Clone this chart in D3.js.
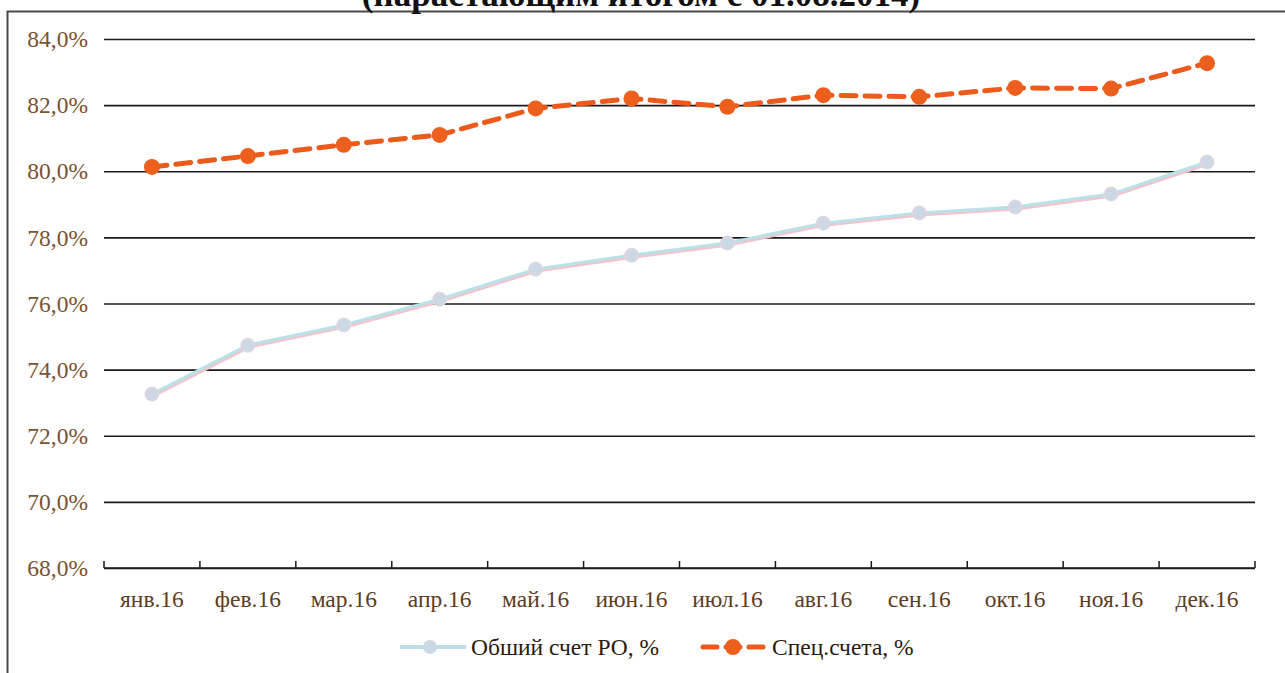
<!DOCTYPE html>
<html>
<head>
<meta charset="utf-8">
<script src="https://cdn.jsdelivr.net/npm/d3@7"></script>
<style>
  body { margin: 0; background: #fff; }
  svg { display: block; }
</style>
</head>
<body>
<script>
const months = ['янв.16', 'фев.16', 'мар.16', 'апр.16', 'май.16', 'июн.16',
                'июл.16', 'авг.16', 'сен.16', 'окт.16', 'ноя.16', 'дек.16'];
const general = [73.26, 74.74, 75.35, 76.13, 77.04, 77.46, 77.83, 78.43, 78.74, 78.92, 79.31, 80.28];
const special = [80.13, 80.46, 80.80, 81.10, 81.90, 82.20, 81.95, 82.30, 82.25, 82.52, 82.50, 83.27];
const yTicks = [68, 70, 72, 74, 76, 78, 80, 82, 84];
const seriesNames = ['Обший счет РО, %', 'Спец.счета, %'];
const title = '(нарастающим итогом с 01.08.2014)';

const W = 1285, H = 673;
const margin = { top: 39, right: 30, bottom: 105, left: 104 };
const width = W - margin.left - margin.right;
const height = H - margin.top - margin.bottom;
const serif = '"Liberation Serif", "DejaVu Serif", serif';
const textColor = '#5e3c22';
const fontSize = 23.5;

const svg = d3.select('body').append('svg')
  .attr('width', W)
  .attr('height', H);

// frame (only left and top edges visible in the scan)
svg.append('rect')
  .attr('x', 7.5).attr('y', 11.5)
  .attr('width', W + 20).attr('height', H + 20)
  .attr('fill', 'none')
  .attr('stroke', '#4a4a4a')
  .attr('stroke-width', 2);

// title, cut off at the top
svg.append('text')
  .attr('x', 641).attr('y', 6)
  .attr('text-anchor', 'middle')
  .attr('font-family', serif)
  .attr('font-weight', 'bold')
  .attr('font-size', 35)
  .attr('fill', '#111')
  .text(title);

const x = d3.scaleBand().domain(months).range([0, width]);
const y = d3.scaleLinear().domain([68, 84]).range([height, 0]);

const chart = svg.append('g')
  .attr('transform', `translate(${margin.left}, ${margin.top})`);

// horizontal grid lines
chart.append('g')
  .call(d3.axisLeft(y).tickValues(yTicks).tickSize(-width).tickFormat(''))
  .call(g => g.select('.domain').remove())
  .selectAll('.tick line')
  .attr('stroke', '#1a1a1a')
  .attr('stroke-width', 1.6);

// y labels
chart.append('g')
  .selectAll('text')
  .data(yTicks)
  .enter().append('text')
  .attr('x', -16)
  .attr('y', d => y(d))
  .attr('dy', '0.35em')
  .attr('text-anchor', 'end')
  .attr('font-family', serif)
  .attr('font-size', fontSize)
  .attr('fill', '#7a5232')
  .text(d => d.toFixed(1).replace('.', ',') + '%');

// x axis with ticks between categories
const xAxis = chart.append('g')
  .attr('transform', `translate(0, ${height})`);
xAxis.append('line')
  .attr('x1', 0).attr('x2', width)
  .attr('stroke', '#1a1a1a').attr('stroke-width', 1.6);
xAxis.selectAll('line.tk')
  .data(d3.range(months.length + 1))
  .enter().append('line')
  .attr('class', 'tk')
  .attr('x1', i => i * x.step()).attr('x2', i => i * x.step())
  .attr('y1', 0).attr('y2', -7)
  .attr('stroke', '#1a1a1a').attr('stroke-width', 1.5);
xAxis.selectAll('text')
  .data(months)
  .enter().append('text')
  .attr('x', d => x(d) + x.bandwidth() / 2)
  .attr('y', 39)
  .attr('text-anchor', 'middle')
  .attr('font-family', serif)
  .attr('font-size', fontSize)
  .attr('fill', textColor)
  .text(d => d);

const cx = (d, i) => x(months[i]) + x.bandwidth() / 2;
const line = d3.line().x(cx).y(d => y(d));

// general account: pale blue with a faint pink fringe
chart.append('path')
  .datum(general)
  .attr('fill', 'none')
  .attr('stroke', '#f2c4cc')
  .attr('stroke-width', 3)
  .attr('transform', 'translate(1, 2)')
  .attr('d', line);
chart.append('path')
  .datum(general)
  .attr('fill', 'none')
  .attr('stroke', '#b9e1ea')
  .attr('stroke-width', 3)
  .attr('d', line);
chart.selectAll('circle.gen')
  .data(general)
  .enter().append('circle')
  .attr('class', 'gen')
  .attr('cx', cx)
  .attr('cy', d => y(d))
  .attr('r', 7)
  .attr('fill', '#ccd8e3')
  .attr('stroke', '#e6d6df')
  .attr('stroke-width', 1);

// special accounts: orange dashed
chart.append('path')
  .datum(special)
  .attr('fill', 'none')
  .attr('stroke', '#ec5a1c')
  .attr('stroke-width', 5)
  .attr('stroke-dasharray', '15,9')
  .attr('stroke-linecap', 'round')
  .attr('d', line);
chart.selectAll('circle.spec')
  .data(special)
  .enter().append('circle')
  .attr('class', 'spec')
  .attr('cx', cx)
  .attr('cy', d => y(d))
  .attr('r', 8)
  .attr('fill', '#ec5f1c');

// legend
const legend = svg.append('g').attr('transform', 'translate(0, 647)');
legend.append('line')
  .attr('x1', 400).attr('x2', 466)
  .attr('stroke', '#bfdde8').attr('stroke-width', 4);
legend.append('circle')
  .attr('cx', 430).attr('cy', 0).attr('r', 7)
  .attr('fill', '#ccd8e3');
legend.append('text')
  .attr('x', 471).attr('dy', '0.35em')
  .attr('font-family', serif).attr('font-size', fontSize)
  .attr('fill', '#2a1a10')
  .text(seriesNames[0]);

legend.append('line')
  .attr('x1', 703).attr('x2', 763)
  .attr('stroke', '#ec5a1c').attr('stroke-width', 5)
  .attr('stroke-dasharray', '14,9')
  .attr('stroke-linecap', 'round');
legend.append('circle')
  .attr('cx', 733).attr('cy', 0).attr('r', 8)
  .attr('fill', '#ec5f1c');
legend.append('text')
  .attr('x', 772).attr('dy', '0.35em')
  .attr('font-family', serif).attr('font-size', fontSize)
  .attr('fill', '#2a1a10')
  .text(seriesNames[1]);
</script>
</body>
</html>
